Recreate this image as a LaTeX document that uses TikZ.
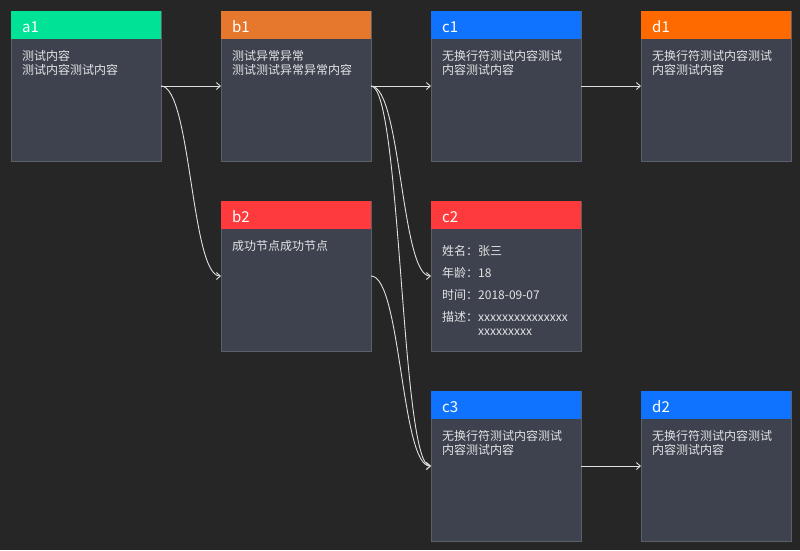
\documentclass[tikz,border=0pt]{standalone}
\usepackage{fontspec}
\setmainfont{Noto Sans CJK SC}
\usetikzlibrary{arrows.meta}
\definecolor{bg}{HTML}{262626}
\definecolor{bodyc}{HTML}{3D424E}
\definecolor{bordc}{HTML}{5B5F68}
\definecolor{txtc}{HTML}{E4E4E4}
\definecolor{edgec}{HTML}{E0E0E0}
\definecolor{cgreen}{HTML}{00E396}
\definecolor{corange}{HTML}{E5782D}
\definecolor{corange2}{HTML}{FF6A00}
\definecolor{cblue}{HTML}{0F73FF}
\definecolor{cred}{HTML}{FF3A3C}
\tikzset{
  body/.style={draw=bordc, fill=bodyc, line width=1pt, minimum width=150pt, minimum height=150pt, anchor=north west, inner sep=0pt, outer sep=0pt},
  head/.style={fill=#1, minimum width=150pt, minimum height=28pt, anchor=north west, inner sep=0pt, outer sep=0pt},
  ttl/.style={text=white, font=\fontsize{15}{18}\selectfont, anchor=base west, inner sep=0pt},
  txt/.style={text=txtc, font=\fontsize{12}{14}\selectfont, anchor=base west, inner sep=0pt},
  edge/.style={draw=edgec, line width=0.9pt, -{Straight Barb[length=4pt,width=7pt]}}
}
\newcommand\card[5]{%
  \node[body] (#1) at (#2,#3) {};
  \node[head=#4] (#1h) at (#2,#3) {};
  \node[ttl] (#1t) at (#2+11,#3+21) {#5};
}
\begin{document}
\begin{tikzpicture}[x=1pt,y=-1pt]
\fill[bg] (0,0) rectangle (800,550);
\useasboundingbox (0,0) rectangle (800,550);

\card{a1}{11}{11}{cgreen}{a1}
\card{b1}{221}{11}{corange}{b1}
\card{c1}{431}{11}{cblue}{c1}
\card{d1}{641}{11}{corange2}{d1}
\card{b2}{221}{201}{cred}{b2}
\card{c2}{431}{201}{cred}{c2}
\card{c3}{431}{391}{cblue}{c3}
\card{d2}{641}{391}{cblue}{d2}

\node[txt] (a1a) at (22,60) {测试内容};
\node[txt] (a1b) at (22,74) {测试内容测试内容};
\node[txt] (b1a) at (232,60) {测试异常异常};
\node[txt] (b1b) at (232,74) {测试测试异常异常内容};
\node[txt] (c1a) at (442,60) {无换行符测试内容测试};
\node[txt] (c1b) at (442,74) {内容测试内容};
\node[txt] (d1a) at (652,60) {无换行符测试内容测试};
\node[txt] (d1b) at (652,74) {内容测试内容};
\node[txt] (b2a) at (232,250) {成功节点成功节点};
\node[txt] (c2a) at (442,255) {姓名：张三};
\node[txt] (c2b) at (442,277) {年龄：18};
\node[txt] (c2c) at (442,299) {时间：2018-09-07};
\node[txt] (c2d) at (442,321) {描述：xxxxxxxxxxxxxxx};
\node[txt] (c2e) at (478,335) {xxxxxxxxx};
\node[txt] (c3a) at (442,440) {无换行符测试内容测试};
\node[txt] (c3b) at (442,454) {内容测试内容};
\node[txt] (d2a) at (652,440) {无换行符测试内容测试};
\node[txt] (d2b) at (652,454) {内容测试内容};

\draw[edge] (a1.east) -- (b1.west);
\draw[edge] (a1.east) .. controls +(30,0) and +(-30,0) .. (b2.west);
\draw[edge] (b1.east) -- (c1.west);
\draw[edge] (b1.east) .. controls +(30,0) and +(-30,0) .. (c2.west);
\draw[edge] (b1.east) .. controls +(30,0) and +(-30,0) .. (c3.west);
\draw[edge] (b2.east) .. controls +(30,0) and +(-30,0) .. (c3.west);
\draw[edge] (c1.east) -- (d1.west);
\draw[edge] (c3.east) -- (d2.west);
\end{tikzpicture}
\end{document}
